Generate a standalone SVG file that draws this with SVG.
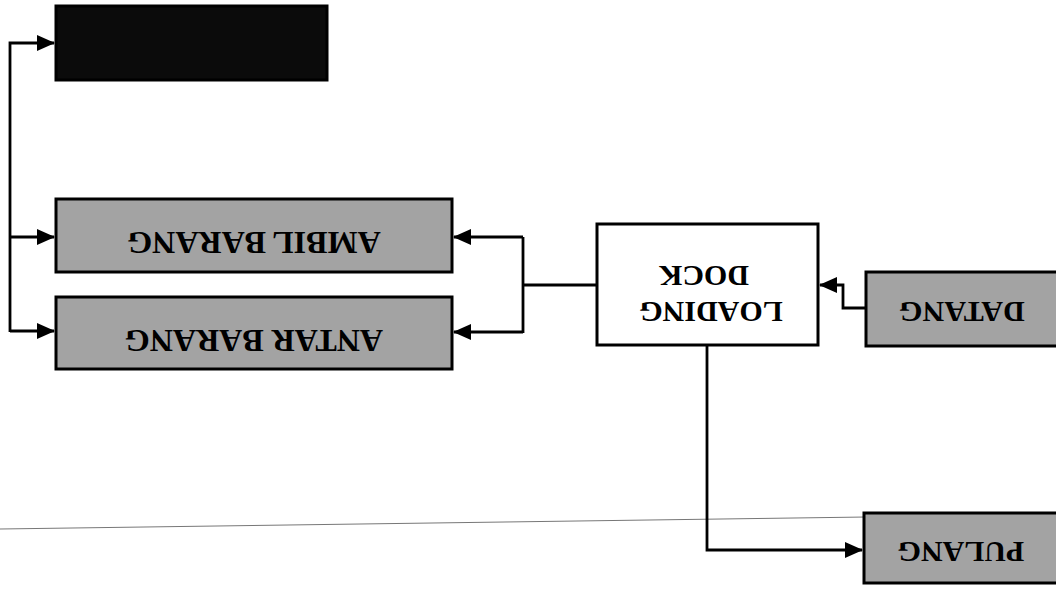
<svg xmlns="http://www.w3.org/2000/svg" width="1056" height="590" viewBox="0 0 1056 590">
<style>
.box{stroke:#000;stroke-width:3}
.grey{fill:#a3a3a3}
.dark{fill:#0b0b0b}
.white{fill:#fff}
.lbl{font-family:"Liberation Serif","Times New Roman",serif;font-weight:bold;font-size:30px;fill:#000;text-anchor:middle}
.big{font-size:32px}
.con{fill:none;stroke:#000;stroke-width:2.8}
</style>
<defs>
<marker id="ah" markerUnits="userSpaceOnUse" markerWidth="18" markerHeight="16" refX="17" refY="8" orient="auto">
<path d="M0,0 L18,8 L0,16 Z" fill="#000"/>
</marker>
</defs>
<rect width="1056" height="590" fill="#fff"/>
<line x1="0" y1="529" x2="866" y2="517" stroke="#777" stroke-width="1"/>
<g id="connectors">
<path class="con" d="M10,332 L10,43 L54,43" marker-end="url(#ah)"/>
<path class="con" d="M10,237 L54,237" marker-end="url(#ah)"/>
<path class="con" d="M10,331 L54,331" marker-end="url(#ah)"/>
<path class="con" d="M597,285 L523,285"/>
<path class="con" d="M523,237 L523,333"/>
<path class="con" d="M523,237 L454,237" marker-end="url(#ah)"/>
<path class="con" d="M523,332 L454,332" marker-end="url(#ah)"/>
<path class="con" d="M866,308 L843,308 L843,285 L820,285" marker-end="url(#ah)"/>
<path class="con" d="M707,345 L707,550 L862,550" marker-end="url(#ah)"/>
</g>
<g id="node-top">
<rect class="box dark" x="56" y="6" width="271" height="74"/>
</g>
<g id="node-ambil">
<rect class="box grey" x="56" y="199" width="396" height="73"/>
<text class="lbl big" x="254" y="252.5" transform="rotate(180 254 242)">AMBIL BARANG</text>
</g>
<g id="node-antar">
<rect class="box grey" x="56" y="297" width="396" height="72"/>
<text class="lbl big" x="254" y="350.5" transform="rotate(180 254 340)">ANTAR BARANG</text>
</g>
<g id="node-loading">
<rect class="box white" x="597" y="224" width="221" height="121"/>
<text class="lbl" x="704" y="286" transform="rotate(180 704 276)">DOCK</text>
<text class="lbl" x="711" y="322" transform="rotate(180 711 312)">LOADING</text>
</g>
<g id="node-datang">
<rect class="box grey" x="866" y="272" width="200" height="74"/>
<text class="lbl" x="962" y="322" transform="rotate(180 962 312)">DATANG</text>
</g>
<g id="node-pulang">
<rect class="box grey" x="864" y="513" width="200" height="70"/>
<text class="lbl" x="961" y="562" transform="rotate(180 961 552)">PULANG</text>
</g>
</svg>
